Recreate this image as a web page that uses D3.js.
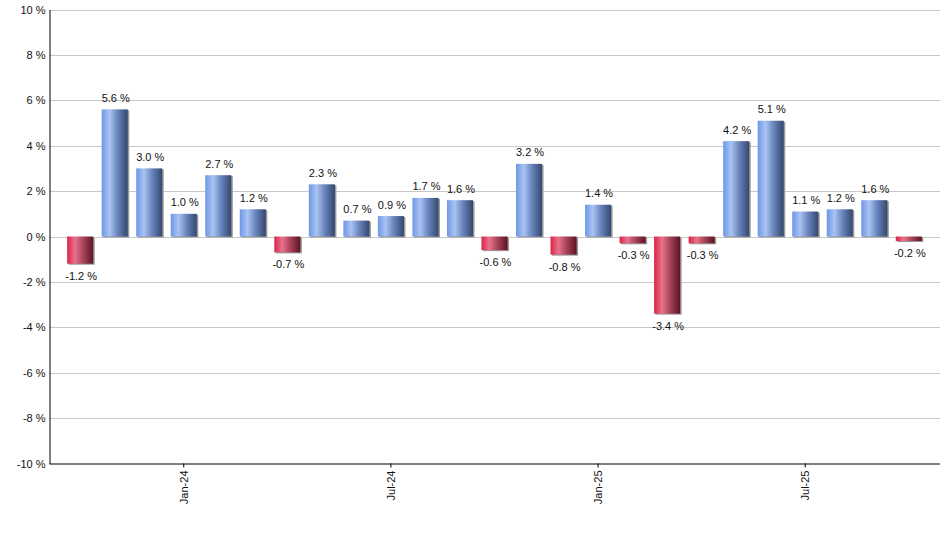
<!DOCTYPE html>
<html><head><meta charset="utf-8">
<script src="https://cdn.jsdelivr.net/npm/d3@7"></script>
<style>body{margin:0;background:#fff}svg{display:block}text{font-family:"Liberation Sans",Arial,sans-serif}</style>
</head><body>
<svg id="c" width="940" height="550"></svg>
<script>
const months = ["Oct-23","Nov-23","Dec-23","Jan-24","Feb-24","Mar-24","Apr-24","May-24","Jun-24","Jul-24","Aug-24","Sep-24","Oct-24","Nov-24","Dec-24","Jan-25","Feb-25","Mar-25","Apr-25","May-25","Jun-25","Jul-25","Aug-25","Sep-25","Oct-25"];
const values = [-1.2,5.6,3.0,1.0,2.7,1.2,-0.7,2.3,0.7,0.9,1.7,1.6,-0.6,3.2,-0.8,1.4,-0.3,-3.4,-0.3,4.2,5.1,1.1,1.2,1.6,-0.2];
const xTickLabels = ["Jan-24","Jul-24","Jan-25","Jul-25"];
const yTicks = [-10,-8,-6,-4,-2,0,2,4,6,8,10];

const svg = d3.select("#c");
const mLeft = 49.5, mRight = 940, mTop = 9.5, mBottom = 463.5;
const x = d3.scaleBand().domain(months).range([63, 926]).paddingInner(0.245).paddingOuter(0.12);
const y = d3.scaleLinear().domain([-10, 10]).range([mBottom, mTop]);

const defs = svg.append("defs");
function grad(id, stops){
  const g = defs.append("linearGradient").attr("id", id).attr("x1","0").attr("x2","1").attr("y1","0").attr("y2","0");
  stops.forEach(s => g.append("stop").attr("offset", s[0]).attr("stop-color", s[1]));
}
grad("gb", [[0,"#6f97e6"],[0.3,"#a9c3f3"],[0.6,"#6a86bd"],[1,"#34476e"]]);
grad("gr", [[0,"#dc2148"],[0.3,"#e8738b"],[0.6,"#a9455c"],[1,"#5e1324"]]);

// gridlines
svg.append("g").selectAll("line").data(yTicks.filter(d => d !== -10)).join("line")
  .attr("x1", mLeft).attr("x2", mRight)
  .attr("y1", d => Math.round(y(d)) + 0.5).attr("y2", d => Math.round(y(d)) + 0.5)
  .attr("stroke", "#c8c8c8").attr("stroke-width", 1);

// y axis labels
const yAxis = d3.axisLeft(y).tickValues(yTicks).tickSize(0).tickPadding(4).tickFormat(d => d + " %");
const gy = svg.append("g").attr("transform", `translate(${mLeft},0)`).call(yAxis);
gy.select(".domain").attr("stroke", "#000");
gy.selectAll("text").attr("font-size", 11).attr("fill", "#111").attr("font-family", "Liberation Sans, Arial, sans-serif");

// bars
const bars = svg.append("g");
const bw = x.bandwidth();
bars.selectAll("rect.sh").data(values).join("rect").attr("class","sh")
  .attr("x", (d,i) => x(months[i]) + 1.5)
  .attr("y", d => Math.min(y(d), y(0)) + 1)
  .attr("width", bw)
  .attr("height", d => Math.abs(y(d) - y(0)))
  .attr("fill", "#9a9a9a");
bars.selectAll("rect.b").data(values).join("rect").attr("class","b")
  .attr("x", (d,i) => x(months[i]))
  .attr("y", d => Math.min(y(d), y(0)))
  .attr("width", bw)
  .attr("height", d => Math.abs(y(d) - y(0)))
  .attr("fill", d => d >= 0 ? "url(#gb)" : "url(#gr)");

// value labels
svg.append("g").selectAll("text").data(values).join("text")
  .attr("x", (d,i) => x(months[i]) + bw / 2 + 1)
  .attr("y", d => d >= 0 ? y(d) - 7.5 : y(d) + 16)
  .attr("text-anchor", "middle")
  .attr("font-size", 11).attr("fill", "#111")
  .text(d => d.toFixed(1) + " %");

// x axis
const xAxis = d3.axisBottom(x).tickValues(xTickLabels).tickSize(4).tickSizeOuter(0).tickPadding(3);
const gx = svg.append("g").attr("transform", `translate(0,${mBottom})`).call(xAxis);
gx.select(".domain").attr("d", `M${mLeft},0.5H${mRight}`).attr("stroke", "#000");
gx.selectAll(".tick line").attr("stroke", "#000");
gx.selectAll(".tick text")
  .attr("font-size", 11).attr("fill", "#111")
  .attr("font-family", "Liberation Sans, Arial, sans-serif")
  .attr("transform", "rotate(-90)")
  .attr("text-anchor", "end")
  .attr("x", -7).attr("y", 0).attr("dy", "0.35em");
</script>
</body></html>
